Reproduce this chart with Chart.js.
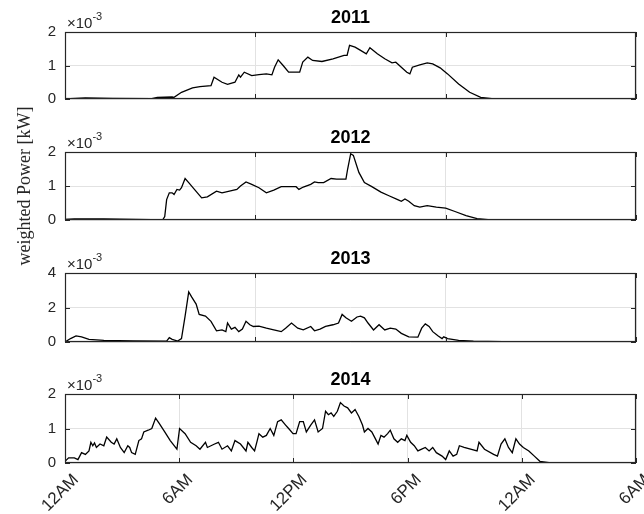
<!DOCTYPE html>
<html>
<head>
<meta charset="utf-8">
<script src="https://cdn.jsdelivr.net/npm/chart.js@4.4.0/dist/chart.umd.min.js"></script>
<style>
  html, body { margin: 0; padding: 0; background: #fff; }
  #quadro { position: relative; width: 644px; height: 514px; }
  #quadro canvas { position: absolute; left: 0; top: 0; }
</style>
</head>
<body>
<div id="quadro">
  <canvas id="g2011" width="644" height="514"></canvas>
  <canvas id="g2012" width="644" height="514"></canvas>
  <canvas id="g2013" width="644" height="514"></canvas>
  <canvas id="g2014" width="644" height="514"></canvas>
</div>
<script>
// DADOS (hours from midnight, weighted power in units of 1e-3 kW)

var horas2011 = [0, 1.07, 2.5, 4.56, 4.85, 5.63, 5.73, 6.12, 6.70, 7.09, 7.67, 7.83, 8.25, 8.54, 8.93, 9.13, 9.22, 9.42, 9.81, 10.19,
  10.58, 10.87, 11.01, 11.20, 11.46, 11.75, 12.33, 12.49, 12.76, 13.01, 13.50, 14.08, 14.66, 14.82, 14.95, 15.24, 15.53, 15.83, 16.02, 16.41,
  16.80, 17.18, 17.38, 17.67, 17.96, 18.12, 18.25, 18.64, 19.03, 19.32, 19.71, 20.10, 20.68, 21.26, 21.84, 22.43, 23.01, 30];
var potencia2011 = [0, 0.03, 0.02, 0.01, 0.05, 0.06, 0.05, 0.2, 0.33, 0.37, 0.4, 0.65, 0.5, 0.44, 0.5, 0.72, 0.65, 0.8, 0.7, 0.73,
  0.75, 0.72, 0.95, 1.17, 1.0, 0.8, 0.8, 1.1, 1.25, 1.15, 1.12, 1.2, 1.3, 1.3, 1.6, 1.55, 1.45, 1.35, 1.53, 1.35,
  1.2, 1.08, 1.1, 0.95, 0.8, 0.75, 0.95, 1.02, 1.08, 1.05, 0.93, 0.75, 0.45, 0.2, 0.05, 0.01, 0, 0];

var horas2012 = [0, 0.49, 2.04, 4.56, 5.15, 5.24, 5.34, 5.48, 5.63, 5.73, 5.88, 6.02, 6.12, 6.31, 6.50, 6.80, 7.18, 7.48, 7.96, 8.25,
  8.64, 9.03, 9.22, 9.51, 9.81, 10.19, 10.58, 10.97, 11.36, 11.75, 12.14, 12.29, 12.52, 12.91, 13.11, 13.30, 13.59, 13.98, 14.27, 14.76,
  14.85, 15.01, 15.15, 15.44, 15.73, 16.12, 16.60, 16.99, 17.48, 17.67, 17.86, 18.06, 18.35, 18.64, 19.03, 19.51, 20.00, 20.49, 21.07, 21.65,
  22.23, 23.01, 30];
var potencia2012 = [0.02, 0.03, 0.03, 0.01, 0.02, 0.1, 0.6, 0.8, 0.8, 0.75, 0.9, 0.88, 0.95, 1.22, 1.1, 0.9, 0.65, 0.68, 0.85, 0.8,
  0.85, 0.9, 1.0, 1.12, 1.05, 0.95, 0.8, 0.88, 0.98, 0.98, 0.98, 0.9, 0.97, 1.05, 1.12, 1.1, 1.1, 1.22, 1.2, 1.2,
  1.5, 1.95, 1.9, 1.4, 1.1, 0.98, 0.82, 0.72, 0.6, 0.55, 0.62, 0.55, 0.42, 0.38, 0.42, 0.38, 0.35, 0.25, 0.13, 0.04,
  0.01, 0, 0];

var horas2013 = [0, 0.29, 0.58, 0.87, 1.26, 2.04, 3.59, 5.34, 5.48, 5.63, 5.92, 6.12, 6.31, 6.50, 6.66, 6.89, 7.05, 7.38, 7.67, 7.96,
  8.25, 8.45, 8.54, 8.74, 8.93, 9.13, 9.32, 9.51, 9.71, 9.90, 10.19, 10.58, 10.97, 11.36, 11.59, 11.90, 12.23, 12.52, 12.91, 13.11,
  13.40, 13.69, 14.08, 14.37, 14.56, 14.76, 15.05, 15.34, 15.53, 15.73, 15.92, 16.21, 16.50, 16.80, 17.09, 17.38, 17.67, 18.06, 18.54, 18.74,
  18.93, 19.13, 19.32, 19.61, 19.81, 19.90, 20.10, 20.68, 21.46, 23.01, 24.95, 30];
var potencia2013 = [0, 0.2, 0.35, 0.3, 0.15, 0.1, 0.07, 0.05, 0.25, 0.15, 0.05, 0.2, 1.5, 2.9, 2.6, 2.2, 1.6, 1.5, 1.2, 0.65,
  0.7, 0.6, 1.1, 0.75, 0.85, 0.6, 0.75, 1.2, 1.0, 0.9, 0.92, 0.8, 0.7, 0.6, 0.8, 1.1, 0.8, 0.7, 0.9, 0.65,
  0.75, 0.9, 1.0, 1.1, 1.6, 1.4, 1.2, 1.45, 1.5, 1.4, 1.1, 0.7, 1.0, 0.7, 0.8, 0.75, 0.5, 0.3, 0.28, 0.8,
  1.05, 0.9, 0.6, 0.35, 0.2, 0.3, 0.2, 0.1, 0.05, 0.02, 0, 0];

var horas2014 = [0, 0.19, 0.49, 0.68, 0.87, 1.07, 1.26, 1.36, 1.46, 1.55, 1.65, 1.84, 2.04, 2.19, 2.43, 2.58, 2.72, 2.91, 3.11, 3.30,
  3.40, 3.50, 3.69, 3.88, 4.02, 4.14, 4.37, 4.56, 4.76, 4.95, 5.24, 5.53, 5.88, 6.02, 6.31, 6.60, 6.89, 7.09, 7.38, 7.48,
  7.86, 8.06, 8.25, 8.54, 8.74, 8.93, 9.22, 9.51, 9.61, 9.81, 9.96, 10.10, 10.19, 10.39, 10.58, 10.78, 10.97, 11.17, 11.36, 11.59,
  11.75, 11.98, 12.14, 12.33, 12.52, 12.68, 12.91, 13.11, 13.30, 13.53, 13.69, 13.84, 13.98, 14.12, 14.31, 14.47, 14.66, 14.85, 15.05, 15.24,
  15.44, 15.63, 15.73, 15.92, 16.12, 16.31, 16.45, 16.60, 16.76, 16.95, 17.09, 17.28, 17.48, 17.67, 17.86, 17.96, 18.16, 18.35, 18.54, 18.74,
  18.93, 19.13, 19.32, 19.51, 19.81, 20.00, 20.19, 20.39, 20.58, 20.72, 20.97, 21.65, 21.75, 22.04, 22.52, 22.72, 22.91, 23.11, 23.30, 23.50,
  23.69, 23.88, 24.08, 24.37, 24.66, 24.95, 25.53, 30];
var potencia2014 = [0.05, 0.15, 0.15, 0.1, 0.3, 0.25, 0.35, 0.6, 0.5, 0.58, 0.45, 0.55, 0.5, 0.75, 0.6, 0.55, 0.7, 0.45, 0.3, 0.5,
  0.45, 0.3, 0.25, 0.65, 0.7, 0.9, 0.95, 1.0, 1.3, 1.15, 0.9, 0.65, 0.4, 1.0, 0.85, 0.6, 0.5, 0.4, 0.6, 0.45,
  0.55, 0.6, 0.4, 0.5, 0.35, 0.65, 0.55, 0.35, 0.6, 0.45, 0.35, 0.65, 0.85, 0.75, 0.8, 1.0, 0.8, 1.2, 1.25, 1.1,
  1.0, 0.85, 0.85, 1.2, 1.2, 0.9, 1.1, 1.25, 0.9, 1.0, 1.5, 1.4, 1.45, 1.35, 1.5, 1.75, 1.65, 1.6, 1.45, 1.55,
  1.35, 1.1, 0.9, 1.0, 0.9, 0.7, 0.55, 0.8, 0.75, 0.85, 0.95, 0.7, 0.6, 0.7, 0.65, 0.8, 0.6, 0.5, 0.35, 0.4,
  0.45, 0.35, 0.45, 0.3, 0.2, 0.1, 0.35, 0.2, 0.25, 0.5, 0.45, 0.35, 0.6, 0.4, 0.25, 0.2, 0.55, 0.7, 0.45, 0.3,
  0.7, 0.55, 0.45, 0.35, 0.2, 0.05, 0, 0];

// tick labels of the bottom panel (every 6 hours)
var rotulosHora = ['12AM', '6AM', '12PM', '6PM', '12AM', '6AM'];

var FONTE = '"Liberation Sans", Arial, Helvetica, sans-serif';
var COR_TEXTO = '#262626';
var COR_GRADE = '#e2e2e2';

// frame, inward ticks, year title and x10^-3 label of each panel
var moldura = {
  id: 'moldura',
  afterDatasetsDraw: function (chart, args, opts) {
    var ctx = chart.ctx;
    var a = chart.chartArea;
    var ys = chart.scales.y;
    var xs = chart.scales.x;
    ctx.save();
    ctx.strokeStyle = COR_TEXTO;
    ctx.lineWidth = 1;
    ctx.beginPath();
    ys.ticks.forEach(function (t) {
      var py = Math.round(ys.getPixelForValue(t.value)) + 0.5;
      ctx.moveTo(a.left, py); ctx.lineTo(a.left + 5, py);
      ctx.moveTo(a.right - 5, py); ctx.lineTo(a.right, py);
    });
    xs.ticks.forEach(function (t) {
      var px = Math.round(xs.getPixelForValue(t.value)) + 0.5;
      ctx.moveTo(px, a.top); ctx.lineTo(px, a.top + 5);
      ctx.moveTo(px, a.bottom - 5); ctx.lineTo(px, a.bottom);
    });
    ctx.stroke();
    ctx.lineWidth = 1.2;
    ctx.strokeRect(a.left + 0.5, a.top + 0.5, a.right - a.left - 1, a.bottom - a.top - 1);

    ctx.fillStyle = '#000';
    ctx.font = 'bold 18px ' + FONTE;
    ctx.textAlign = 'center';
    ctx.textBaseline = 'alphabetic';
    ctx.fillText(opts.ano, (a.left + a.right) / 2, a.top - 9);

    ctx.fillStyle = COR_TEXTO;
    ctx.textAlign = 'left';
    ctx.font = '15px ' + FONTE;
    ctx.fillText('\u00d710', a.left + 2, a.top - 4);
    var w = ctx.measureText('\u00d710').width;
    ctx.font = '11px ' + FONTE;
    ctx.fillText('-3', a.left + 2 + w, a.top - 12);
    ctx.restore();
  }
};

function criarPainel(idCanvas, ano, horas, potencia, yMax, yPasso, topo, base, ultimo) {
  var pontos = [];
  for (var i = 0; i < horas.length; i++) {
    pontos.push({ x: horas[i], y: potencia[i] });
  }
  var alturaEixoX = ultimo ? 514 - base : 0;

  var config = {
    type: 'line',
    data: {
      datasets: [{
        data: pontos,
        borderColor: '#000',
        borderWidth: 1.3,
        pointRadius: 0,
        tension: 0,
        fill: false
      }]
    },
    options: {
      responsive: false,
      animation: false,
      devicePixelRatio: 1,
      layout: { padding: { top: topo, bottom: 514 - base - alturaEixoX, left: 0, right: 8 } },
      plugins: {
        legend: { display: false },
        tooltip: { enabled: false },
        moldura: { ano: ano }
      },
      scales: {
        x: {
          type: 'linear',
          min: 0,
          max: 30,
          border: { display: false },
          grid: { color: COR_GRADE, drawTicks: false },
          ticks: {
            display: ultimo,
            stepSize: ultimo ? 6 : 10,
            autoSkip: false,
            minRotation: 45,
            maxRotation: 45,
            padding: 7,
            labelOffset: 11,
            color: COR_TEXTO,
            font: { family: FONTE, size: 17 },
            callback: function (valor) {
              return rotulosHora[Math.round(valor / 6)];
            }
          },
          afterFit: function (escala) {
            escala.height = alturaEixoX;
            escala.paddingLeft = 0;
            escala.paddingRight = 0;
          }
        },
        y: {
          min: 0,
          max: yMax,
          border: { display: false },
          grid: { color: COR_GRADE, drawTicks: false },
          ticks: {
            stepSize: yPasso,
            padding: 9,
            color: COR_TEXTO,
            font: { family: FONTE, size: 15 }
          },
          title: {
            display: ano == '2012',
            text: 'weighted Power [kW]',
            color: COR_TEXTO,
            font: { family: '"Liberation Serif", "Times New Roman", serif', size: 18 },
            padding: { top: 14, bottom: 0 }
          },
          afterFit: function (escala) {
            escala.width = 65;
            escala.paddingTop = 0;
            escala.paddingBottom = 0;
          }
        }
      }
    },
    plugins: [moldura]
  };

  return new Chart(document.getElementById(idCanvas), config);
}

criarPainel('g2011', '2011', horas2011, potencia2011, 2, 1, 32, 99, false);
criarPainel('g2012', '2012', horas2012, potencia2012, 2, 1, 152, 220, false);
criarPainel('g2013', '2013', horas2013, potencia2013, 4, 2, 273, 342, false);
criarPainel('g2014', '2014', horas2014, potencia2014, 2, 1, 394, 463, true);
</script>
</body>
</html>
